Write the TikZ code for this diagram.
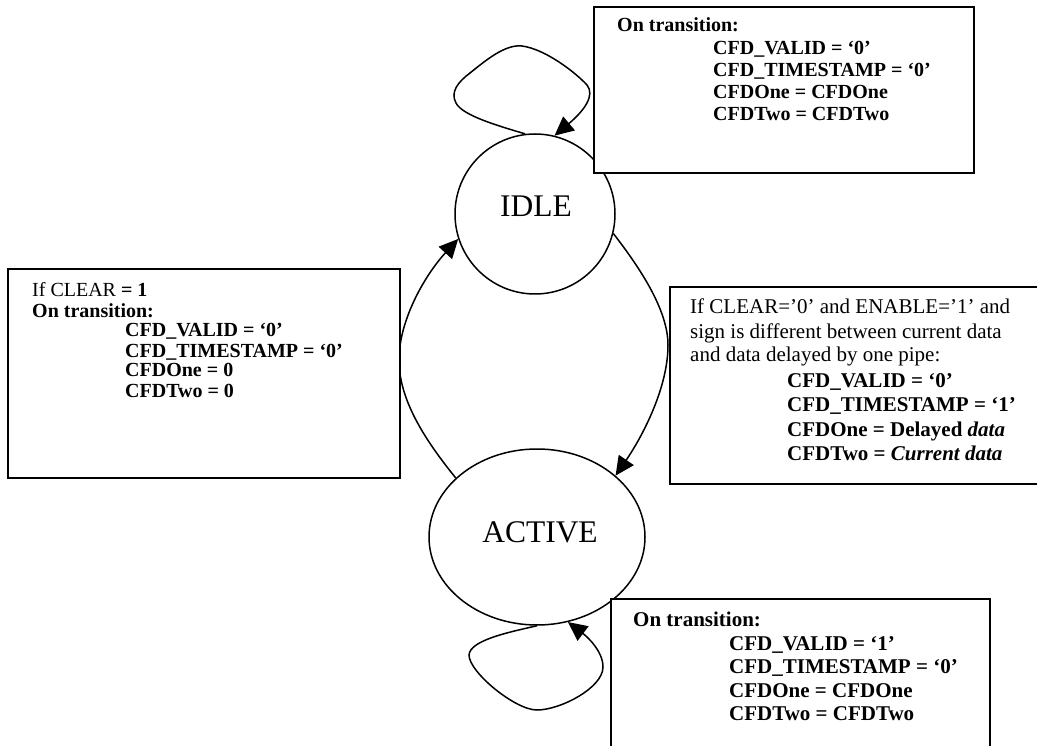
\documentclass[tikz,border=0pt]{standalone}
\usepackage{fontspec}
\setmainfont{Liberation Serif}
\usetikzlibrary{arrows.meta,shapes.geometric}

\begin{document}
\begin{tikzpicture}[x=1pt,y=-1pt,
  state/.style={draw, line width=1.5pt, inner sep=0pt},
  statelabel/.style={anchor=base, inner sep=0pt, font=\fontsize{31.5}{36}\selectfont},
  flow/.style={line width=1.5pt, -{Triangle[length=19pt,width=18pt]}},
  notebox/.style={draw, line width=2pt, fill=white, anchor=north west, inner sep=0pt},
  plain/.style={anchor=base west, inner sep=0pt, font=\fontsize{20}{24}\selectfont},
  bold/.style={anchor=base west, inner sep=0pt, font=\fontsize{20}{24}\selectfont\bfseries},
  plainlg/.style={anchor=base west, inner sep=0pt, font=\fontsize{21}{24}\selectfont},
  boldlg/.style={anchor=base west, inner sep=0pt, font=\fontsize{21}{24}\selectfont\bfseries}]

\useasboundingbox (0,0) rectangle (1037,746);
\clip (0,0) rectangle (1037,746);
\fill[white] (0,0) rectangle (1037,746);

% states
\node[state, circle, minimum size=160pt] (idle) at (535,214) {};
\node[state, ellipse, minimum width=216pt, minimum height=176pt] (active) at (537,537) {};
\node[statelabel] (idlename) at (536,217) {IDLE};
\node[statelabel] (activename) at (540,542) {ACTIVE};

% self loop on IDLE
\draw[flow] (idle.97) .. controls (495,125) and (462,115) .. (456,103)
  .. controls (450,92) and (458,82) .. (470,73)
  .. controls (485,61) and (505,44) .. (522,46)
  .. controls (545,49) and (575,72) .. (587,85)
  .. controls (595,95) and (585,110) .. (idle.76);

% self loop on ACTIVE
\draw[flow] (active.-90) .. controls (510,632) and (470,640) .. (469,655)
  .. controls (469,672) and (515,710) .. (537,710)
  .. controls (560,710) and (603,688) .. (603,667)
  .. controls (603,650) and (585,635) .. (active.-70);

% IDLE -> ACTIVE
\draw[flow] (idle.-14) .. controls (640,268) and (668,310) .. (668,345)
  .. controls (668,390) and (640,440) .. (active.38);

% ACTIVE -> IDLE
\draw[flow] (active.144) .. controls (425,440) and (399,400) .. (399,360)
  .. controls (399,320) and (425,275) .. (idle.198);

% transition notes
\node[notebox, minimum width=380pt, minimum height=166pt] (idlenote) at (593,6) {};
\node[notebox, minimum width=392pt, minimum height=209pt] (clearnote) at (7,268) {};
\node[notebox, minimum width=381pt, minimum height=197pt] (enablenote) at (669,286) {};
\node[notebox, minimum width=379pt, minimum height=170pt] (activenote) at (610,598) {};

% IDLE self transition
\node[bold] (ia) at (617,32) {On transition:};
\node[bold] (ib) at (713,55) {CFD\_VALID = ‘0’};
\node[bold] (ic) at (713,77) {CFD\_TIMESTAMP = ‘0’};
\node[bold] (id) at (713,99) {CFDOne = CFDOne};
\node[bold] (ie) at (713,121) {CFDTwo = CFDTwo};

% ACTIVE -> IDLE
\node[plain] (ca) at (32,297) {If CLEAR \textbf{= 1}};
\node[bold] (cb) at (32,317) {On transition:};
\node[bold] (cc) at (125,337) {CFD\_VALID = ‘0’};
\node[bold] (cd) at (125,357) {CFD\_TIMESTAMP = ‘0’};
\node[bold] (ce) at (125,377) {CFDOne = 0};
\node[bold] (cf) at (125,397) {CFDTwo = 0};

% IDLE -> ACTIVE
\node[plainlg] (ea) at (690,314) {If CLEAR=’0’ and ENABLE=’1’ and};
\node[plainlg] (eb) at (690,338) {sign is different between current data};
\node[plainlg] (ec) at (690,362) {and data delayed by one pipe:};
\node[boldlg] (ed) at (787,387) {CFD\_VALID = ‘0’};
\node[boldlg] (ee) at (787,411) {CFD\_TIMESTAMP = ‘1’};
\node[boldlg] (ef) at (787,436) {CFDOne = Delayed \textit{data}};
\node[boldlg] (eg) at (787,460) {CFDTwo = \textit{Current data}};

% ACTIVE self transition
\node[boldlg] (aa) at (633,626) {On transition:};
\node[boldlg] (ab) at (729,650) {CFD\_VALID = ‘1’};
\node[boldlg] (ac) at (729,673) {CFD\_TIMESTAMP = ‘0’};
\node[boldlg] (ad) at (729,697) {CFDOne = CFDOne};
\node[boldlg] (ae) at (729,720) {CFDTwo = CFDTwo};
\end{tikzpicture}
\end{document}
